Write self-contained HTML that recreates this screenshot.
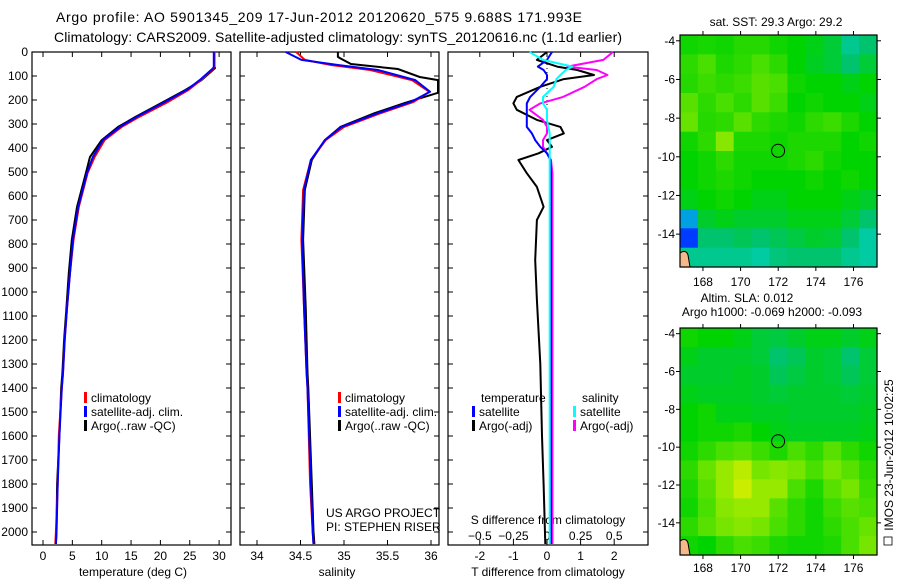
<!DOCTYPE html>
<html><head><meta charset="utf-8"><style>
html,body{margin:0;padding:0;background:#fff;}
svg{display:block;font-family:"Liberation Sans",sans-serif;}
</style></head><body>
<svg id="c" width="900" height="580" xmlns="http://www.w3.org/2000/svg"></svg>
<script>
// ---- data ----
const depthT = [0,60,67,117,158,212,270,312,367,437,504,646,783,921,1062,1200,1337,1400,1600,1800,2000,2050];
const tempSat = [29.1,29.1,29.0,26.7,24.5,20.5,16,13.1,10.2,8.5,7.5,6.0,5.1,4.6,4.1,3.7,3.4,3.2,2.8,2.5,2.3,2.2];
const tempClim = [29.2,29.2,29.1,26.9,24.8,21.0,16.4,13.4,10.5,8.8,7.6,6.1,5.2,4.6,4.1,3.7,3.4,3.2,2.7,2.5,2.2,2.1];
const tempArgo = [29.2,29.2,29.3,27.0,24.3,20.2,15.8,12.8,10.0,8.0,7.3,5.8,4.9,4.4,4.0,3.6,3.3,3.1,2.8,2.4,2.3,2.2];
const depthS = [0,33,54,75,117,166,208,255,312,367,450,575,783,1062,1337,1400,1800,2000,2050];
const salSat = [34.33,34.51,34.93,35.39,35.82,35.99,35.77,35.39,34.97,34.78,34.62,34.54,34.52,34.54,34.57,34.58,34.62,34.64,34.65];
const salClim = [34.45,34.55,34.85,35.30,35.78,35.98,35.80,35.42,35.00,34.79,34.62,34.53,34.51,34.54,34.57,34.58,34.61,34.64,34.65];
const depthSA = [0,20,25,50,71,104,117,170,212,255,312,367,450,575,783,1062,1337,1400,1800,2000,2050];
const salArgo = [34.93,34.93,34.95,35.08,35.62,35.87,36.08,36.08,35.70,35.35,34.96,34.78,34.63,34.55,34.53,34.56,34.58,34.59,34.63,34.65,34.66];
const depthD = [0,33,61,75,96,113,145,187,214,241,283,312,339,367,395,422,450,505,562,645,700,867,1033,1300,1600,1800,2050];
const dTsat = [0.15,0.0,-0.27,-0.1,0.0,0.0,-0.2,-0.5,-0.6,-0.6,-0.6,-0.6,-0.45,-0.35,-0.2,0.0,0.1,0.12,0.12,0.12,0.12,0.12,0.12,0.12,0.12,0.12,0.12];
const dTargo = [0.0,-0.3,0.3,0.9,1.4,0.5,-0.2,-0.9,-1.0,-0.9,-0.3,0.4,0.5,0.0,0.15,-0.25,-0.85,-0.6,-0.3,-0.1,-0.3,-0.35,-0.3,-0.2,-0.15,-0.1,-0.05];
const dSsat = [-0.13,-0.03,0.19,0.14,0.1,0.07,0.05,-0.03,-0.03,0.0,0.0,0.01,0.02,0.02,0.02,0.02,0.02,0.02,0.02,0.02,0.02,0.02,0.02,0.02,0.02,0.02,0.02];
const dSargo = [0.49,0.42,0.15,0.37,0.45,0.37,0.28,0.12,-0.05,-0.13,-0.03,0.0,0.0,-0.03,-0.03,0.0,0.03,0.04,0.04,0.04,0.04,0.04,0.04,0.04,0.04,0.04,0.04];
const depthTicks = [0,100,200,300,400,500,600,700,800,900,1000,1100,1200,1300,1400,1500,1600,1700,1800,1900,2000];
const tTicks = [0,5,10,15,20,25,30];
const sTicks = [34,34.5,35,35.5,36];
const dTTicks = [-2,-1,0,1,2];
const dSTicks = ["-0.5","-0.25","0","0.25","0.5"];
const lonTicks = [168,170,172,174,176];
const latTicks = [-4,-6,-8,-10,-12,-14];
const sstGrid = [
[0.62,0.63,0.62,0.65,0.65,0.62,0.6,0.58,0.55,0.45,0.5],
[0.66,0.7,0.64,0.66,0.7,0.66,0.6,0.57,0.55,0.5,0.55],
[0.65,0.68,0.66,0.68,0.72,0.7,0.62,0.6,0.6,0.58,0.6],
[0.72,0.66,0.7,0.66,0.72,0.68,0.6,0.62,0.6,0.6,0.58],
[0.74,0.65,0.66,0.72,0.66,0.64,0.62,0.66,0.68,0.64,0.6],
[0.62,0.66,0.78,0.64,0.64,0.62,0.64,0.64,0.64,0.6,0.62],
[0.6,0.62,0.66,0.62,0.62,0.62,0.64,0.66,0.62,0.6,0.6],
[0.6,0.62,0.64,0.62,0.6,0.6,0.6,0.62,0.6,0.62,0.6],
[0.58,0.6,0.62,0.6,0.58,0.58,0.6,0.6,0.6,0.58,0.56],
[0.3,0.56,0.58,0.56,0.56,0.56,0.58,0.58,0.58,0.55,0.5],
[0.2,0.5,0.5,0.52,0.5,0.52,0.54,0.56,0.55,0.5,0.42],
[0.45,0.45,0.45,0.45,0.42,0.48,0.5,0.5,0.5,0.45,0.42]];
const slaGrid = [
[0.62,0.6,0.6,0.58,0.55,0.54,0.56,0.58,0.58,0.56,0.58],
[0.58,0.56,0.56,0.56,0.55,0.5,0.52,0.56,0.55,0.5,0.55],
[0.56,0.56,0.56,0.57,0.56,0.52,0.54,0.56,0.55,0.52,0.55],
[0.58,0.57,0.57,0.57,0.56,0.55,0.56,0.56,0.56,0.55,0.56],
[0.6,0.62,0.58,0.58,0.57,0.57,0.56,0.56,0.56,0.56,0.57],
[0.6,0.62,0.62,0.64,0.6,0.58,0.57,0.57,0.57,0.57,0.58],
[0.62,0.66,0.7,0.72,0.68,0.64,0.7,0.66,0.72,0.66,0.62],
[0.66,0.74,0.8,0.84,0.76,0.78,0.76,0.7,0.76,0.72,0.66],
[0.64,0.72,0.8,0.86,0.8,0.8,0.7,0.64,0.72,0.76,0.68],
[0.62,0.7,0.78,0.8,0.8,0.72,0.66,0.62,0.68,0.72,0.7],
[0.66,0.72,0.76,0.78,0.76,0.7,0.66,0.62,0.66,0.7,0.74],
[0.62,0.6,0.66,0.7,0.68,0.64,0.62,0.62,0.64,0.7,0.76]];
const argoLon = 171.993, argoLat = -9.688;

// ---- helpers ----
const svg = document.getElementById('c');
const NS = 'http://www.w3.org/2000/svg';
function mk(tag, attrs, parent){const e=document.createElementNS(NS,tag);for(const k in attrs)e.setAttribute(k,attrs[k]);(parent||svg).appendChild(e);return e;}
function txt(s,x,y,anchor,size,parent){const t=mk('text',{x:x,y:y,'text-anchor':anchor||'start','font-size':size||12,fill:'#000'},parent);t.textContent=s;return t;}
const yD = d => 52 + d*0.24;
const PB = 545;
const LW = 2;

function panel(x0,x1,name){
  const r=mk('rect',{x:x0,y:52,width:x1-x0,height:PB-52,fill:'none',stroke:'#000','stroke-width':1.2});
  
  
  depthTicks.forEach(d=>{mk('line',{x1:x0,x2:x0+5,y1:yD(d),y2:yD(d),stroke:'#000'});mk('line',{x1:x1-5,x2:x1,y1:yD(d),y2:yD(d),stroke:'#000'});});
}
function line(xs,ds,fx,color,w,name){
  const pts=xs.map((v,i)=>fx(v).toFixed(1)+','+yD(ds[i]).toFixed(1)).join(' ');
  const p=mk('polyline',{points:pts,fill:'none',stroke:color,'stroke-width':w||LW,'stroke-linejoin':'round'});
  
  
}

// titles
const t1=txt('Argo profile: AO 5901345_209 17-Jun-2012 20120620_575 9.688S 171.993E',56,22,'start',14);
t1.setAttribute('textLength','526');


const t2=txt('Climatology: CARS2009. Satellite-adjusted climatology: synTS_20120616.nc (1.1d earlier)',54,42,'start',14);
t2.setAttribute('textLength','568');



// depth labels
depthTicks.forEach(d=>{const t=txt(String(d),28,yD(d)+4,'end',12);
  
  });

// panel 1 temperature
const fT = v => 43 + v*5.87;
panel(32,231,'temperature-panel');
tTicks.forEach(v=>{mk('line',{x1:fT(v),x2:fT(v),y1:52,y2:57,stroke:'#000'});mk('line',{x1:fT(v),x2:fT(v),y1:PB-5,y2:PB,stroke:'#000'});
  const t=txt(String(v),fT(v),560,'middle',12);});
const tx1=txt('temperature (deg C)',133,576,'middle',12);


line(tempArgo,depthT,fT,'#000',LW,'temperature-argo-line');
line(tempClim,depthT,fT,'#f00',LW,'temperature-climatology-line');
line(tempSat,depthT,fT,'#00f',LW,'temperature-satellite-line');

// panel 2 salinity
const fS = v => 257 + (v-34)*87;
panel(240,439,'salinity-panel');
sTicks.forEach(v=>{mk('line',{x1:fS(v),x2:fS(v),y1:52,y2:57,stroke:'#000'});mk('line',{x1:fS(v),x2:fS(v),y1:PB-5,y2:PB,stroke:'#000'});
  const t=txt(String(v),fS(v),560,'middle',12);});
const tx2=txt('salinity',337,576,'middle',12);


const cp=mk('clipPath',{id:'cp2'});mk('rect',{x:240,y:52,width:199,height:493},cp);
const g2=mk('g',{'clip-path':'url(#cp2)'});
(function(){const pts=salArgo.map((v,i)=>fS(v).toFixed(1)+','+yD(depthSA[i]).toFixed(1)).join(' ');
 const p=mk('polyline',{points:pts,fill:'none',stroke:'#000','stroke-width':LW},g2);
 
 })();
line(salClim,depthS,fS,'#f00',LW,'salinity-climatology-line');
line(salSat,depthS,fS,'#00f',LW,'salinity-satellite-line');

// legends
function legend(x,y,color,label,name){mk('rect',{x:x,y:y-10,width:3,height:11,fill:color});
  const t=txt(label,x+7,y,'start',12);}
legend(84,402,'#f00','climatology','legend-climatology');
legend(84,416,'#00f','satellite-adj. clim.','legend-satellite');
legend(84,430,'#000','Argo(..raw -QC)','legend-argo');
legend(338,402,'#f00','climatology','legend-climatology-2');
legend(338,416,'#00f','satellite-adj. clim.','legend-satellite-2');
legend(338,430,'#000','Argo(..raw -QC)','legend-argo-2');
const us=txt('US ARGO PROJECT',326,517,'start',12);
const pi=txt('PI: STEPHEN RISER',326,531,'start',12);

// panel 3 differences
const fDT = v => 547 + v*33.6;
const fDS = v => 547 + v*134.4;
panel(448,648,'difference-panel');
dTTicks.forEach(v=>{mk('line',{x1:fDT(v),x2:fDT(v),y1:52,y2:57,stroke:'#000'});mk('line',{x1:fDT(v),x2:fDT(v),y1:PB-5,y2:PB,stroke:'#000'});
  const t=txt(String(v),fDT(v),560,'middle',12);});
dSTicks.forEach(v=>{const t=txt(v.replace('-','\u2212'),fDS(parseFloat(v)),540,'middle',12);});
const sd=txt('S difference from climatology',548,524,'middle',12);
const td=txt('T difference from climatology',548,576,'middle',12);
mk('line',{x1:547,x2:547,y1:yD(50),y2:yD(330),stroke:'#000','stroke-dasharray':'1,3'});
line(dTargo,depthD,fDT,'#000',LW,'tdiff-argo-line');
line(dSargo,depthD,fDS,'#f0f',LW,'sdiff-argo-line');
line(dTsat,depthD,fDT,'#00f',LW,'tdiff-satellite-line');
line(dSsat,depthD,fDS,'#0ff',LW,'sdiff-satellite-line');
const lt=txt('temperature',481,402,'start',12);
const ls=txt('salinity',582,402,'start',12);
legend(472,416,'#00f','satellite','legend-tdiff-satellite');
legend(472,430,'#000','Argo(-adj)','legend-tdiff-argo');
legend(573,416,'#0ff','satellite','legend-sdiff-satellite');
legend(573,430,'#f0f','Argo(-adj)','legend-sdiff-argo');

// maps
function cmap(v){
  const stops=[[0,[0,0,140]],[0.2,[0,60,255]],[0.35,[0,210,210]],[0.5,[0,195,110]],[0.6,[0,212,0]],[0.75,[110,228,0]],[0.88,[220,240,0]],[1,[255,200,0]]];
  for(let i=1;i<stops.length;i++){if(v<=stops[i][0]){const a=stops[i-1],b=stops[i];const f=(v-a[0])/(b[0]-a[0]);
    return 'rgb('+a[1].map((c,j)=>Math.round(c+(b[1][j]-c)*f)).join(',')+')';}}
  return 'rgb(255,200,0)';
}
function map(top,bottom,grid,name,lonLabelY){
  const x0=680,x1=877,lon0=166.78,lon1=177.25,lat0=-3.7,lat1=-15.7;
  const fx=l=>x0+(l-lon0)/(lon1-lon0)*(x1-x0);
  const fy=l=>top+(l-lat0)/(lat1-lat0)*(bottom-top);
  const g=mk('g',{});
  
  
  const nr=grid.length,nc=grid[0].length;
  const dl=(lon1-lon0)/nc, dla=(lat1-lat0)/nr;
  grid.forEach((row,r)=>row.forEach((v,c)=>{
    const xa=fx(lon0+c*dl),xb=fx(lon0+(c+1)*dl),ya=fy(lat0+r*dla),yb=fy(lat0+(r+1)*dla);
    const cell=mk('rect',{x:xa.toFixed(1),y:ya.toFixed(1),width:(xb-xa+0.6).toFixed(1),height:(yb-ya+0.6).toFixed(1),fill:cmap(v)},g);
    
    
  }));
  mk('path',{d:`M${x0} ${bottom-14} q6 -4 8 2 l2 12 h-10z`,fill:'#f5b98a',stroke:'#000'},g);
  mk('rect',{x:x0,y:top,width:x1-x0,height:bottom-top,fill:'none',stroke:'#000','stroke-width':1.2});
  const c=mk('circle',{cx:fx(argoLon),cy:fy(argoLat),r:6.5,fill:'none',stroke:'#000'});
  
  
  lonTicks.forEach(l=>{mk('line',{x1:fx(l),x2:fx(l),y1:top-4,y2:top,stroke:'#000'});mk('line',{x1:fx(l),x2:fx(l),y1:bottom,y2:bottom+4,stroke:'#000'});
    const t=txt(String(l),fx(l),lonLabelY,'middle',12);});
  latTicks.forEach(l=>{mk('line',{x1:x0-4,x2:x0,y1:fy(l),y2:fy(l),stroke:'#000'});mk('line',{x1:x1,x2:x1+4,y1:fy(l),y2:fy(l),stroke:'#000'});
    const t=txt(String(l),x0-5,fy(l)+4,'end',12);});
}
map(35,267,sstGrid,'sst-map',286);
map(328,555,slaGrid,'sla-map',572);
const m1=txt('sat. SST: 29.3 Argo: 29.2',776,26,'middle',12);
const m2=txt('Altim. SLA: 0.012',747,302,'middle',12);
const m3=txt('Argo h1000: -0.069 h2000: -0.093',772,316,'middle',12);
const im=txt('IMOS 23-Jun-2012 10:02:25',0,0,'middle',12);
im.setAttribute('transform','translate(893,455) rotate(-90)');


mk('rect',{x:884,y:537,width:8,height:8,fill:'none',stroke:'#000','stroke-width':0.8});
</script>
</body></html>
